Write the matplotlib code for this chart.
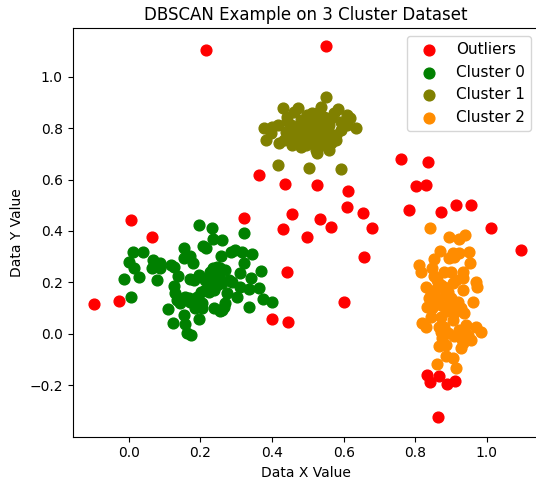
import numpy as np
import matplotlib.pyplot as plt

# points DBSCAN left unassigned (label -1)
outlier_x = [0.217, 0.550, -0.097, -0.027, 0.007, 0.066, 0.323, 0.365, 0.435, 0.457,
             0.432, 0.399, 0.446, 0.441, 0.499, 0.527, 0.533, 0.566, 0.611, 0.608,
             0.653, 0.679, 0.656, 0.600, 0.759, 0.835, 0.802, 0.829, 0.782, 0.871,
             0.913, 0.955, 1.011, 1.095, 0.832, 0.866, 0.840, 0.888, 0.911, 0.863]
outlier_y = [1.103, 1.118, 0.117, 0.128, 0.443, 0.377, 0.450, 0.617, 0.583, 0.466,
             0.408, 0.058, 0.047, 0.241, 0.377, 0.579, 0.447, 0.416, 0.555, 0.493,
             0.470, 0.412, 0.299, 0.124, 0.680, 0.668, 0.575, 0.579, 0.482, 0.474,
             0.501, 0.501, 0.412, 0.326, -0.159, -0.163, -0.186, -0.194, -0.183, -0.322]

c0_x = [0.195, 0.232, 0.322, 0.234, 0.261, 0.206, 0.216, 0.154, 0.011, 0.041,
        0.285, 0.298, 0.317, 0.345, 0.153, 0.172, 0.257, 0.002, 0.069, 0.088,
        0.117, 0.125, 0.178, 0.016, 0.065, 0.086, 0.321, 0.236, 0.247, 0.256,
        0.368, 0.312, 0.137, 0.195, 0.226, -0.012, 0.030, 0.080, 0.170, 0.181,
        0.214, 0.289, 0.340, 0.125, 0.228, 0.247, 0.261, 0.312, 0.335, 0.363,
        0.130, 0.223, 0.237, 0.273, 0.006, 0.137, 0.158, 0.167, 0.303, 0.375,
        0.399, 0.144, 0.172, 0.205, 0.270, 0.110, 0.186, 0.205, 0.239, 0.261,
        0.267, 0.335, 0.153, 0.195, 0.124, 0.156, 0.163, 0.174, 0.256, 0.135,
        0.223, 0.191, 0.237, 0.251, 0.279, 0.202, 0.242, 0.214, 0.270]
c0_y = [0.422, 0.410, 0.391, 0.368, 0.365, 0.343, 0.335, 0.335, 0.320, 0.320,
        0.320, 0.326, 0.320, 0.311, 0.296, 0.303, 0.303, 0.281, 0.287, 0.277,
        0.268, 0.261, 0.275, 0.255, 0.255, 0.255, 0.275, 0.255, 0.261, 0.255,
        0.246, 0.236, 0.223, 0.229, 0.242, 0.212, 0.220, 0.210, 0.212, 0.210,
        0.210, 0.203, 0.216, 0.186, 0.190, 0.190, 0.197, 0.184, 0.174, 0.177,
        0.158, 0.164, 0.171, 0.160, 0.143, 0.139, 0.145, 0.139, 0.143, 0.135,
        0.125, 0.119, 0.125, 0.119, 0.119, 0.098, 0.100, 0.100, 0.100, 0.093,
        0.106, 0.106, 0.074, 0.057, 0.042, 0.039, 0.005, -0.004, 0.087, 0.132,
        0.216, 0.145, 0.210, 0.216, 0.210, 0.164, 0.229, 0.171, 0.249]

c1_x = [0.552, 0.431, 0.472, 0.461, 0.536, 0.584, 0.573, 0.610, 0.618, 0.443,
        0.498, 0.512, 0.545, 0.634, 0.379, 0.401, 0.416, 0.592, 0.382, 0.396,
        0.419, 0.433, 0.452, 0.480, 0.494, 0.526, 0.559, 0.417, 0.503, 0.592,
        0.480, 0.508, 0.535, 0.494, 0.522, 0.550, 0.466, 0.530, 0.558, 0.480,
        0.513, 0.541, 0.452, 0.578, 0.502, 0.550, 0.469, 0.564, 0.438, 0.530,
        0.443, 0.592, 0.580, 0.516, 0.488, 0.564, 0.457, 0.608, 0.508, 0.535,
        0.474, 0.556, 0.522, 0.497]
c1_y = [0.922, 0.880, 0.877, 0.863, 0.883, 0.873, 0.857, 0.850, 0.838, 0.844,
        0.850, 0.857, 0.844, 0.799, 0.799, 0.805, 0.812, 0.792, 0.753, 0.779,
        0.741, 0.753, 0.766, 0.727, 0.734, 0.702, 0.715, 0.656, 0.643, 0.640,
        0.831, 0.812, 0.800, 0.784, 0.773, 0.761, 0.800, 0.831, 0.812, 0.761,
        0.746, 0.734, 0.812, 0.773, 0.839, 0.784, 0.753, 0.742, 0.784, 0.862,
        0.827, 0.823, 0.753, 0.800, 0.812, 0.839, 0.734, 0.812, 0.773, 0.753,
        0.792, 0.792, 0.715, 0.753]

c2_x = [0.841, 0.895, 0.923, 0.938, 0.869, 0.853, 0.904, 0.923, 0.895, 0.909,
        0.950, 0.953, 0.811, 0.815, 0.848, 0.881, 0.899, 0.932, 0.932, 0.969,
        0.972, 0.829, 0.862, 0.881, 0.904, 0.932, 0.839, 0.857, 0.885, 0.899,
        0.960, 0.834, 0.848, 0.871, 0.895, 0.918, 0.927, 0.843, 0.909, 0.937,
        0.871, 0.820, 0.829, 0.867, 0.881, 0.904, 0.941, 0.927, 0.969, 0.983,
        0.871, 0.890, 0.909, 0.946, 0.955, 0.927, 0.876, 0.885, 0.867, 0.927,
        0.932, 0.885, 0.904, 0.913, 0.862, 0.923, 0.853, 0.862, 0.843, 0.885,
        0.871, 0.890, 0.913, 0.862, 0.899]
c2_y = [0.412, 0.376, 0.368, 0.384, 0.323, 0.290, 0.313, 0.316, 0.294, 0.300,
        0.317, 0.277, 0.268, 0.242, 0.255, 0.242, 0.242, 0.242, 0.216, 0.203,
        0.184, 0.184, 0.177, 0.184, 0.197, 0.171, 0.139, 0.145, 0.151, 0.139,
        0.125, 0.106, 0.100, 0.113, 0.113, 0.125, 0.100, 0.067, 0.080, 0.080,
        0.067, 0.042, 0.028, 0.028, 0.028, 0.054, 0.035, 0.009, 0.026, 0.009,
        0.009, 0.003, -0.010, -0.004, -0.023, -0.017, -0.017, -0.043, -0.049, -0.056,
        -0.036, -0.088, -0.094, -0.133, -0.117, 0.016, 0.223, 0.210, 0.158, 0.087,
        0.190, 0.163, 0.210, 0.132, 0.093]

fig = plt.figure(figsize=(5.36, 4.84), dpi=100)
# the right edge of the axes sits just past the canvas
ax = fig.add_axes([0.1353, 0.0977, 0.870, 0.8438])

ax.scatter(outlier_x, outlier_y, c='red', s=60, label='Outliers')
ax.scatter(c0_x, c0_y, c='green', s=60, label='Cluster 0')
ax.scatter(c1_x, c1_y, c='olive', s=60, label='Cluster 1')
ax.scatter(c2_x, c2_y, c='darkorange', s=60, label='Cluster 2')

ax.set_xlim(-0.157, 1.145)
ax.set_ylim(-0.40, 1.188)
ax.set_xticks([0.0, 0.2, 0.4, 0.6, 0.8, 1.0])
ax.set_yticks([-0.2, 0.0, 0.2, 0.4, 0.6, 0.8, 1.0])

ax.set_title('DBSCAN Example on 3 Cluster Dataset', fontsize=12)
ax.set_xlabel('Data X Value')
ax.set_ylabel('Data Y Value')
ax.legend(loc='upper right', fontsize=11)

fig.savefig('out.png', dpi=100)
